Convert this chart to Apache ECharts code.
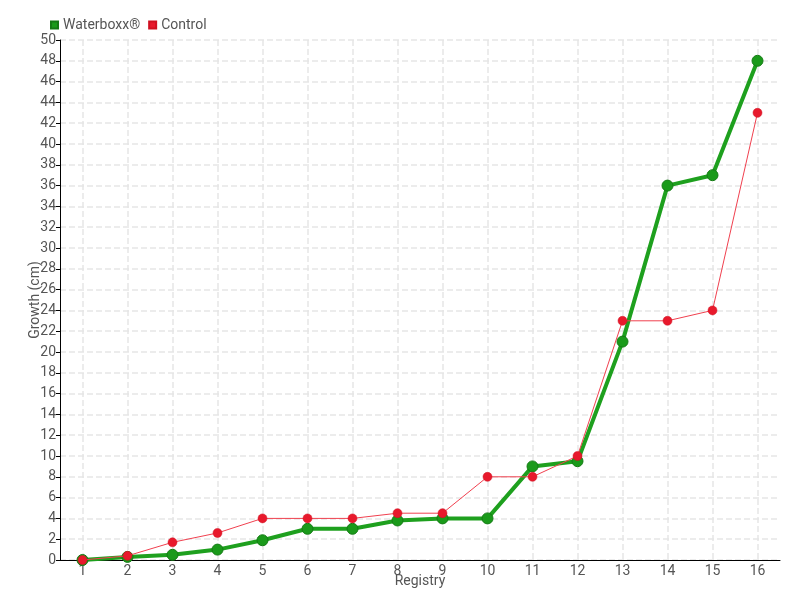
<!DOCTYPE html>
<html><head><meta charset="utf-8">
<script src="https://cdn.jsdelivr.net/npm/echarts@6/dist/echarts.min.js"></script>
<style>html,body{margin:0;padding:0;background:#fff}#c{width:800px;height:600px}</style>
</head><body><div id="c"></div>
<script>
var categories = ['1','2','3','4','5','6','7','8','9','10','11','12','13','14','15','16'];
var waterboxx = [0, 0.3, 0.5, 1, 1.9, 3, 3, 3.8, 4, 4, 9, 9.5, 21, 36, 37, 48];
var control = [0, 0.4, 1.7, 2.6, 4, 4, 4, 4.5, 4.5, 8, 8, 10, 23, 23, 24, 43];
var FONT = 'Roboto, "Liberation Sans Narrow", sans-serif';
var GRID = {color: '#e6e6e6', type: 'dashed', width: 1.5};
var chart = echarts.init(document.getElementById('c'));
chart.setOption({
  animation: false,
  textStyle: {fontFamily: FONT},
  legend: {
    left: 45, top: 13, itemWidth: 7, itemHeight: 7, itemGap: 8,
    textStyle: {fontFamily: FONT, fontSize: 14, color: '#555'},
    data: [{name: 'Waterboxx®', icon: 'rect'}, {name: 'Control', icon: 'rect'}]
  },
  grid: [
    {left: 60, right: 20, top: 40, bottom: 40},
    {left: 82.5, right: 42.5, top: 40, bottom: 40}
  ],
  xAxis: [{
    type: 'category', data: categories, boundaryGap: true, gridIndex: 0,
    name: 'Registry', nameLocation: 'middle', nameGap: 14, nameMoveOverlap: false,
    nameTextStyle: {fontFamily: FONT, fontSize: 14, color: '#555'},
    axisLine: {lineStyle: {color: '#000'}},
    axisTick: {alignWithLabel: true, length: 4, lineStyle: {color: '#000'}},
    axisLabel: {fontFamily: FONT, fontSize: 14, color: '#555', margin: 4},
    splitLine: {show: false}
  }, {
    type: 'value', gridIndex: 1, min: 1, max: 16, interval: 1, z: 0,
    axisLine: {show: false}, axisTick: {show: false}, axisLabel: {show: false},
    splitLine: {show: true, lineStyle: GRID}
  }],
  yAxis: [{
    type: 'value', min: 0, max: 50, interval: 2, gridIndex: 0,
    name: 'Growth (cm)', nameLocation: 'middle', nameGap: 18, nameMoveOverlap: false,
    nameTextStyle: {fontFamily: FONT, fontSize: 14, color: '#555'},
    axisLine: {show: true, lineStyle: {color: '#000'}},
    axisTick: {show: true, length: 4, lineStyle: {color: '#000'}},
    axisLabel: {fontFamily: FONT, fontSize: 14, color: '#555', margin: 4},
    splitLine: {show: true, lineStyle: GRID}
  }, {
    type: 'value', gridIndex: 1, min: 0, max: 50, show: false,
    splitLine: {show: false}
  }],
  series: [
    {
      name: 'Waterboxx®', type: 'line', data: waterboxx, z: 2, xAxisIndex: 0, yAxisIndex: 0,
      symbol: 'circle', symbolSize: 11,
      lineStyle: {color: '#1ea01e', width: 4},
      itemStyle: {color: '#1a9a1a', borderColor: '#147a14', borderWidth: 1}
    },
    {
      name: 'Control', type: 'line', data: control, z: 3, xAxisIndex: 0, yAxisIndex: 0,
      symbol: 'circle', symbolSize: 9,
      lineStyle: {color: '#f0404f', width: 1},
      itemStyle: {color: '#e8192c', borderColor: '#d01020', borderWidth: 0.5}
    }
  ]
});
</script></body></html>
